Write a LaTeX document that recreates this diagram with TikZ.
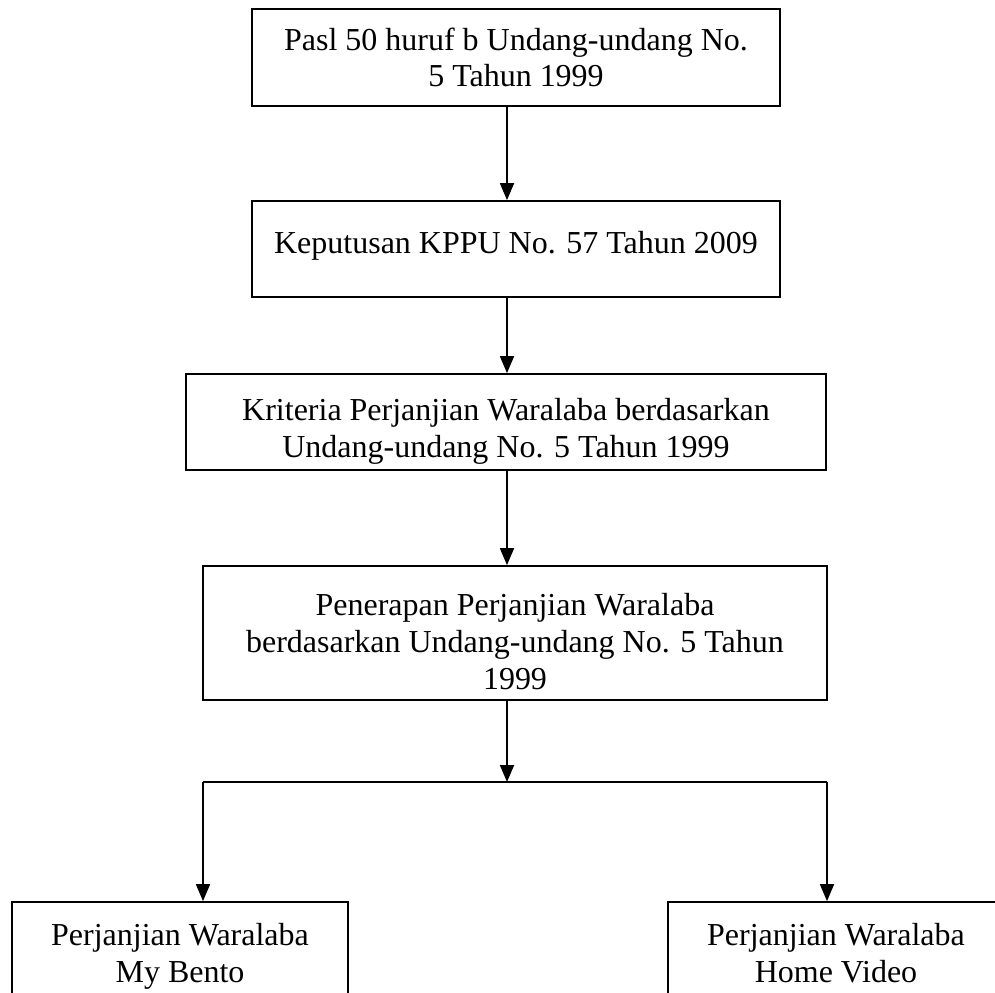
\documentclass[tikz,border=0pt]{standalone}
\usepackage{fontspec}
\setmainfont{Liberation Serif}
\usepackage{tikz}
\usetikzlibrary{arrows.meta, positioning}

\begin{document}
\begin{tikzpicture}[
    box/.style={rectangle, draw=black, line width=1pt, align=center, inner sep=0pt, text depth=0pt, font=\fontsize{18.2}{21}\selectfont},
    arrow/.style={-{Triangle[length=3.4mm, width=2.8mm]}, line width=1pt}
]
% Frame
\clip (0,0) rectangle (19.9,-19.84);

% Legal basis
\node[box, minimum width=10.56cm, minimum height=1.94cm, text height=1.18cm] (pasal) at (10.32,-1.15) {Pasl 50 huruf b Undang-undang No.\\5 Tahun 1999};
\node[box, minimum width=10.56cm, minimum height=1.92cm, text height=0.18cm] (kppu) at (10.32,-4.98) {Keputusan KPPU No. 57 Tahun 2009};

% Criteria and application
\node[box, minimum width=12.8cm, minimum height=1.92cm, text height=1.40cm] (kriteria) at (10.12,-8.44) {Kriteria Perjanjian Waralaba berdasarkan\\Undang-undang No. 5 Tahun 1999};
\node[box, minimum width=12.48cm, minimum height=2.68cm, text height=2.24cm] (penerapan) at (10.30,-12.66) {Penerapan Perjanjian Waralaba\\berdasarkan Undang-undang No. 5 Tahun\\1999};

% Cases
\node[box, minimum width=6.72cm, minimum height=2.08cm, text height=1.12cm] (bento) at (3.60,-19.08) {Perjanjian Waralaba\\My Bento};
\node[box, minimum width=6.72cm, minimum height=2.08cm, text height=1.12cm] (video) at (16.72,-19.08) {Perjanjian Waralaba\\Home Video};

% Branch points
\coordinate (spine) at (10.14,0);
\coordinate (split) at (10.14,-15.64);
\coordinate (lsplit) at (4.06,-15.64);
\coordinate (rsplit) at (16.54,-15.64);

% Arrows
\draw[arrow] (pasal.south -| spine) -- (kppu.north -| spine);
\draw[arrow] (kppu.south -| spine) -- (kriteria.north -| spine);
\draw[arrow] (kriteria.south -| spine) -- (penerapan.north -| spine);
\draw[arrow] (penerapan.south -| spine) -- (split);
\draw[line width=1pt] (lsplit) -- (rsplit);
\draw[arrow] (lsplit) -- (lsplit |- bento.north);
\draw[arrow] (rsplit) -- (rsplit |- video.north);
\end{tikzpicture}
\end{document}
